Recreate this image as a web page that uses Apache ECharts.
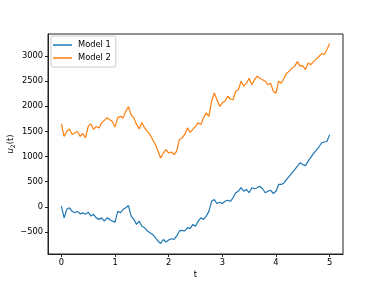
<!DOCTYPE html>
<html>
<head>
<meta charset="utf-8">
<script src="https://cdn.jsdelivr.net/npm/echarts@6/dist/echarts.min.js"></script>
<style>html,body{margin:0;padding:0;background:#fff}#c{width:381px;height:286px}</style>
</head>
<body>
<div id="c"></div>
<script>
var tValues = [0,0.05,0.1,0.15,0.2,0.25,0.3,0.35,0.4,0.45,0.5,0.55,0.6,0.65,0.7,0.75,0.8,0.85,0.9,0.95,
1,1.05,1.1,1.15,1.2,1.25,1.3,1.35,1.4,1.45,1.5,1.55,1.6,1.65,1.7,1.75,1.8,1.85,1.9,1.95,
2,2.05,2.1,2.15,2.2,2.25,2.3,2.35,2.4,2.45,2.5,2.55,2.6,2.65,2.7,2.75,2.8,2.85,2.9,2.95,
3,3.05,3.1,3.15,3.2,3.25,3.3,3.35,3.4,3.45,3.5,3.55,3.6,3.65,3.7,3.75,3.8,3.85,3.9,3.95,
4,4.05,4.1,4.15,4.2,4.25,4.3,4.35,4.4,4.45,4.5,4.55,4.6,4.65,4.7,4.75,4.8,4.85,4.9,4.95,5];

var model1 = [13,-220,-50,-20,-90,-120,-90,-140,-120,-150,-105,-185,-150,-220,-250,-220,-285,-220,-250,-285,
-305,-90,-120,-50,-20,25,-185,-250,-350,-285,-385,-415,-480,-515,-550,-615,-680,-730,-650,-700,
-660,-635,-650,-580,-480,-470,-480,-415,-435,-350,-385,-285,-220,-250,-185,-90,110,145,65,90,
65,110,130,110,180,280,310,380,310,345,280,380,360,380,410,360,280,310,330,265,
310,445,445,475,545,610,675,740,810,875,840,820,910,985,1060,1125,1190,1270,1290,1300,1435];

var model2 = [1649,1400,1500,1550,1440,1470,1500,1400,1460,1370,1600,1650,1540,1600,1570,1670,1720,1770,1735,1700,
1590,1770,1800,1770,1900,1990,1830,1770,1640,1550,1680,1570,1500,1440,1340,1240,1110,970,1070,1140,
1070,1090,1040,1110,1340,1370,1440,1570,1480,1540,1600,1670,1640,1770,1870,1800,2100,2265,2130,2000,
2070,2100,2200,2145,2130,2300,2330,2500,2400,2460,2560,2430,2530,2600,2560,2530,2500,2430,2460,2300,
2260,2500,2460,2560,2660,2700,2760,2800,2890,2800,2810,2730,2860,2830,2890,2940,2990,3050,3030,3130,3245];

var xTicks = [0,1,2,3,4,5];
var yTicks = [-500,0,500,1000,1500,2000,2500,3000];

function pairs(vals){ return tValues.map(function(t,i){ return [t, vals[i]]; }); }

var font = 'DejaVu Sans';
var chart = echarts.init(document.getElementById('c'), null, {renderer:'canvas'});
chart.setOption({
  animation:false,
  backgroundColor:'#fff',
  textStyle:{fontFamily:font},
  grid:{left:48,right:38,top:34,bottom:32,containLabel:false,outerBoundsMode:'none',
        show:true,borderColor:'#222',borderWidth:1,backgroundColor:'transparent'},
  legend:{
    orient:'vertical', left:51, top:36,
    data:['Model 1','Model 2'],
    icon:'rect', itemWidth:19, itemHeight:1.5, itemGap:3,
    padding:[4,5,4,2],
    borderColor:'#cccccc', borderWidth:1, borderRadius:2,
    backgroundColor:'rgba(255,255,255,0.8)',
    textStyle:{fontFamily:font,fontSize:8.3,color:'#000',lineHeight:10,padding:[0,0,0,1]}
  },
  xAxis:{
    type:'value', min:-0.25, max:5.25,
    name:'t', nameLocation:'middle', nameGap:17, nameMoveOverlap:false,
    nameTextStyle:{fontFamily:font,fontSize:8.3,color:'#000'},
    splitLine:{show:false},
    axisLine:{show:true,onZero:false,lineStyle:{color:'#222',width:1}},
    axisTick:{show:true,length:3,customValues:xTicks,lineStyle:{color:'#222'}},
    axisLabel:{customValues:xTicks,margin:5,fontFamily:font,fontSize:8.3,color:'#000'}
  },
  yAxis:{
    type:'value', min:-939, max:3439,
    name:'{i|u}{s|2}{n|(t)}', nameLocation:'middle', nameGap:32, nameRotate:90, nameMoveOverlap:false,
    nameTextStyle:{fontFamily:font,fontSize:8.3,color:'#000',
      rich:{i:{fontFamily:font,fontStyle:'italic',fontSize:8.3},
            s:{fontFamily:font,fontSize:6,verticalAlign:'bottom',padding:[4,0,0,0]},
            n:{fontFamily:font,fontSize:8.3}}},
    splitLine:{show:false},
    axisLine:{show:true,onZero:false,lineStyle:{color:'#222',width:1}},
    axisTick:{show:true,length:3,customValues:yTicks,lineStyle:{color:'#222'}},
    axisLabel:{customValues:yTicks,margin:5,fontFamily:font,fontSize:8.3,color:'#000',
      formatter:function(v){ return v<0 ? '\u2212'+Math.abs(v) : String(v); }}
  },
  series:[
    {name:'Model 1',type:'line',data:pairs(model1),showSymbol:false,symbol:'none',
     lineStyle:{color:'#1f77b4',width:1.2},itemStyle:{color:'#1f77b4'}},
    {name:'Model 2',type:'line',data:pairs(model2),showSymbol:false,symbol:'none',
     lineStyle:{color:'#ff7f0e',width:1.2},itemStyle:{color:'#ff7f0e'}}
  ]
});
</script>
</body>
</html>
